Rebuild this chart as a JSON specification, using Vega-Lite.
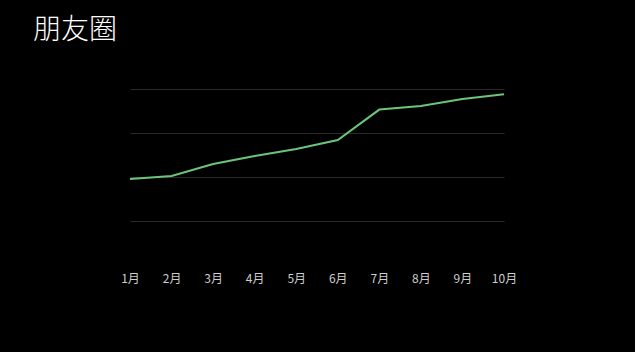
{
  "$schema": "https://vega.github.io/schema/vega-lite/v6.json",
  "autosize": "none",
  "width": 374,
  "height": 176,
  "padding": {"left": 130, "top": 89, "right": 131, "bottom": 87},
  "background": "#000000",
  "config": {"view": {"stroke": null}},
  "title": {
    "text": "朋友圈",
    "anchor": "start",
    "frame": "group",
    "dx": -97,
    "offset": 44,
    "font": "Noto Sans CJK SC",
    "fontSize": 28,
    "fontWeight": 300,
    "color": "#ffffff"
  },
  "data": {
    "values": [
      {"month": "1月", "value": 48.9},
      {"month": "2月", "value": 50.6},
      {"month": "3月", "value": 57.4},
      {"month": "4月", "value": 61.9},
      {"month": "5月", "value": 65.9},
      {"month": "6月", "value": 71.0},
      {"month": "7月", "value": 88.3},
      {"month": "8月", "value": 90.3},
      {"month": "9月", "value": 94.3},
      {"month": "10月", "value": 97.0}
    ]
  },
  "mark": {"type": "line", "color": "#6cc47a", "strokeWidth": 2},
  "encoding": {
    "x": {
      "field": "month",
      "type": "ordinal",
      "sort": null,
      "scale": {"type": "point", "padding": 0},
      "axis": {
        "title": null,
        "domain": false,
        "ticks": false,
        "grid": false,
        "labelAngle": 0,
        "labelPadding": 8,
        "labelFont": "Noto Sans CJK SC",
        "labelFontSize": 12,
        "labelColor": "#cccccc"
      }
    },
    "y": {
      "field": "value",
      "type": "quantitative",
      "scale": {"domain": [0, 100]},
      "axis": {
        "title": null,
        "values": [25, 50, 75, 100],
        "labels": false,
        "ticks": false,
        "domain": false,
        "grid": true,
        "gridColor": "#2a2a2a",
        "gridWidth": 1
      }
    }
  }
}
